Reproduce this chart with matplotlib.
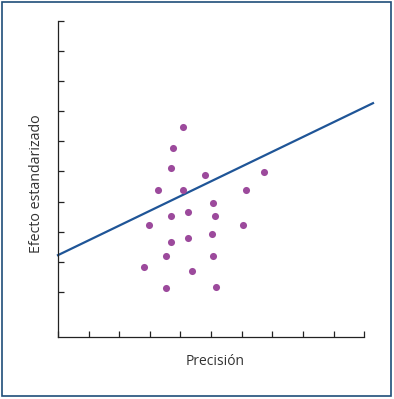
import matplotlib
matplotlib.use("Agg")
import matplotlib.pyplot as plt
from matplotlib.patches import Rectangle

# precision (x) and standardized effect (y) of the studies
precision = [4.08, 3.76, 3.69, 4.80, 6.73, 3.27, 4.08, 6.14, 5.07, 3.69, 4.25, 5.13,
             2.97, 6.05, 3.69, 4.25, 5.03, 3.53, 5.07, 2.81, 4.38, 3.53, 5.16]
effect = [6.98, 6.28, 5.61, 5.38, 5.48, 4.88, 4.88, 4.88, 4.45, 4.02, 4.15, 4.02,
          3.72, 3.72, 3.16, 3.29, 3.42, 2.69, 2.69, 2.33, 2.19, 1.63, 1.66]
line_x = [0, 10.29]
line_y = [2.72, 7.77]
x_ticks = list(range(0, 11))
y_ticks = [1.5 + i for i in range(10)]

plt.rcParams['font.family'] = ['Open Sans', 'DejaVu Sans']

fig = plt.figure(figsize=(3.94, 3.99), dpi=100)
ax = fig.add_axes([58 / 394, 62 / 399, 315 / 394, 316 / 399])

ax.scatter(precision, effect, s=26, color='#9c4a9c', zorder=3, linewidths=0)
ax.plot(line_x, line_y, color='#1f5597', linewidth=1.6, clip_on=False)

ax.set_xlim(0, 10.29)
ax.set_ylim(0, 10.5)
ax.set_xticks(x_ticks)
ax.set_yticks(y_ticks)
ax.set_xticklabels([])
ax.set_yticklabels([])
ax.tick_params(direction='in', length=4.5, width=0.9, color='#222222')
for side in ['top', 'right']:
    ax.spines[side].set_visible(False)
for side in ['left', 'bottom']:
    ax.spines[side].set_linewidth(0.9)
    ax.spines[side].set_color('#222222')
ax.spines['bottom'].set_bounds(0, 10)

ax.set_xlabel('Precisión', fontsize=10, color='#333333')
ax.set_ylabel('Efecto estandarizado', fontsize=10.3, color='#333333')
ax.xaxis.set_label_coords(0.5, -0.054)
ax.yaxis.set_label_coords(-0.045, 0.486)

fig.patches.append(Rectangle((1.5 / 394, 3 / 399), 389 / 394, 394 / 399,
                             transform=fig.transFigure, fill=False,
                             edgecolor='#1f4e79', linewidth=1.2))

fig.savefig('out.png', dpi=100)
